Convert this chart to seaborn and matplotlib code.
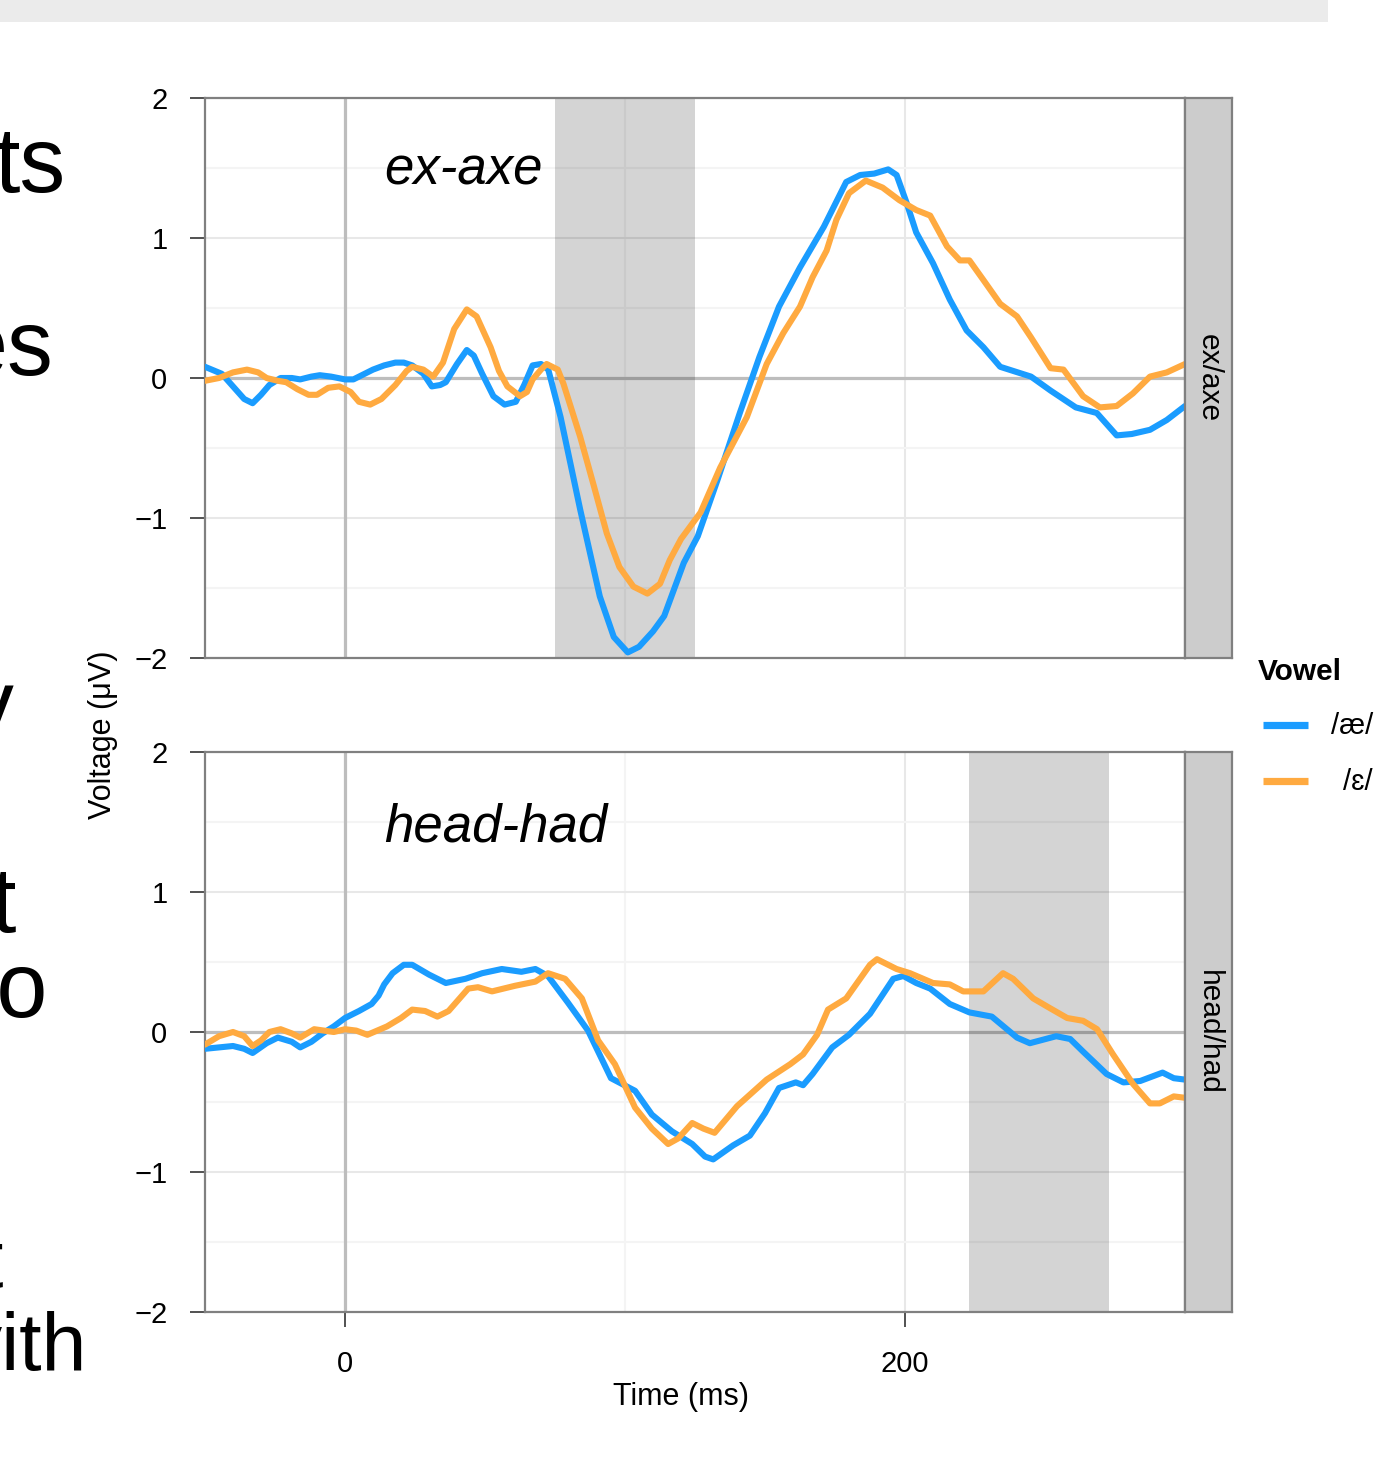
import matplotlib
matplotlib.use("Agg")
import matplotlib.pyplot as plt
import seaborn as sns
import pandas as pd
from matplotlib.lines import Line2D
from matplotlib.patches import Rectangle

# ---------------- data ----------------
vowels = ["/æ/", "/ɛ/"]
words = ["ex-axe", "head-had"]
strip_labels = ["ex/axe", "head/had"]
bands = [(75, 125), (223, 273)]

# ex-axe, /æ/
exaxe_ae_t = [-50, -44, -40, -36, -33, -30, -27, -23, -19, -16, -12, -9, -5, 0, 3, 6, 10, 14, 18, 21, 24,
              28, 31, 34, 36, 40, 43.5, 46, 49, 53, 57, 61, 64, 67, 70, 72.6, 77, 84, 91, 96, 101, 105, 110,
              114, 121, 126, 133, 141, 148, 155, 162.5, 171, 179, 184, 189, 194, 197, 200.6, 204, 210, 216,
              222, 228, 234, 245, 252, 261, 268.5, 275.6, 281, 287.5, 293.5, 300]
exaxe_ae_v = [0.08, 0.03, -0.06, -0.15, -0.18, -0.12, -0.05, 0.0, 0.0, -0.01, 0.01, 0.02, 0.01, -0.01, -0.01,
              0.02, 0.06, 0.09, 0.11, 0.11, 0.09, 0.03, -0.06, -0.05, -0.03, 0.1, 0.2, 0.16, 0.03, -0.13,
              -0.19, -0.17, -0.05, 0.09, 0.1, 0.06, -0.28, -0.94, -1.56, -1.85, -1.96, -1.92, -1.81, -1.7,
              -1.32, -1.13, -0.73, -0.25, 0.15, 0.51, 0.79, 1.08, 1.4, 1.45, 1.46, 1.49, 1.45, 1.25, 1.04,
              0.82, 0.56, 0.34, 0.22, 0.08, 0.01, -0.09, -0.21, -0.25, -0.41, -0.4, -0.37, -0.3, -0.2]

# ex-axe, /ɛ/
exaxe_eh_t = [-50, -45, -40, -35, -31, -28, -24, -21, -17, -13, -10, -6, -2, 2, 5, 9, 13, 18, 22, 24, 28,
              31.5, 35, 39, 43.5, 47, 52, 55, 58, 62.5, 65, 67, 70, 72, 76, 78, 84, 89, 93.5, 98, 103, 108,
              112.5, 116, 120, 127, 134, 143.5, 150.6, 156.5, 162.5, 167, 172, 175.5, 180, 186, 192, 198,
              204, 209, 215, 219.6, 223, 228, 234, 240, 245, 252, 256.6, 263.6, 269.6, 275.6, 281.4, 287.5,
              293.5, 300]
exaxe_eh_v = [-0.02, 0.0, 0.04, 0.06, 0.04, 0.0, -0.02, -0.03, -0.08, -0.12, -0.12, -0.07, -0.06, -0.1,
              -0.17, -0.19, -0.15, -0.05, 0.05, 0.08, 0.06, 0.01, 0.11, 0.35, 0.49, 0.44, 0.22, 0.05, -0.06,
              -0.13, -0.1, -0.01, 0.06, 0.1, 0.06, -0.04, -0.42, -0.78, -1.11, -1.35, -1.49, -1.54, -1.47,
              -1.3, -1.15, -0.96, -0.64, -0.28, 0.1, 0.32, 0.51, 0.72, 0.91, 1.13, 1.32, 1.41, 1.36, 1.27,
              1.2, 1.16, 0.94, 0.84, 0.84, 0.7, 0.53, 0.44, 0.29, 0.07, 0.06, -0.13, -0.21, -0.2, -0.11,
              0.01, 0.04, 0.1]

# head-had, /æ/
headhad_ae_t = [-50, -45, -40, -36, -33, -28, -24, -19, -16, -12, -8, -4, 0, 5, 9.5, 12, 14, 17, 21, 24,
                30, 36, 43, 49, 56, 63, 68, 72.5, 79.6, 86.8, 95, 103.6, 109.6, 116.8, 124, 128.6, 131.5,
                138.6, 144.6, 150, 155, 161, 163.6, 167, 174, 180, 187.5, 195.8, 199.4, 204, 209, 216, 223,
                231, 240, 244.6, 254, 259, 263.6, 272, 278, 284, 292, 296, 300]
headhad_ae_v = [-0.12, -0.11, -0.1, -0.12, -0.15, -0.08, -0.04, -0.07, -0.11, -0.07, -0.01, 0.04, 0.1, 0.15,
                0.2, 0.26, 0.34, 0.42, 0.48, 0.48, 0.41, 0.35, 0.38, 0.42, 0.45, 0.43, 0.45, 0.4, 0.21, 0.01,
                -0.33, -0.42, -0.59, -0.71, -0.8, -0.89, -0.91, -0.81, -0.74, -0.58, -0.4, -0.36, -0.38,
                -0.3, -0.11, -0.02, 0.13, 0.38, 0.4, 0.35, 0.31, 0.2, 0.14, 0.11, -0.04, -0.08, -0.03, -0.05,
                -0.14, -0.3, -0.36, -0.35, -0.29, -0.33, -0.34]

# head-had, /ɛ/
headhad_eh_t = [-50, -45, -40, -36, -33, -30, -27, -23, -19, -16, -11, -4, 0, 4, 8, 15, 20, 24, 28.6, 33,
                37, 44, 47.5, 52.5, 60.7, 68, 72.5, 78.6, 84.6, 90.4, 96.4, 103.6, 109.6, 115.4, 119, 124,
                128, 132, 140, 150.6, 159, 163.6, 168.6, 172.5, 179, 187.5, 190, 197, 201.8, 210, 216,
                220.8, 228, 235, 238.6, 245.8, 251.8, 257.9, 263.6, 268.6, 274.3, 281.4, 287.5, 291, 296, 300]
headhad_eh_v = [-0.09, -0.03, 0.0, -0.03, -0.1, -0.06, 0.0, 0.02, -0.01, -0.04, 0.02, 0.0, 0.02, 0.01,
                -0.02, 0.04, 0.1, 0.16, 0.15, 0.11, 0.15, 0.31, 0.32, 0.29, 0.33, 0.36, 0.42, 0.38, 0.24,
                -0.06, -0.23, -0.54, -0.69, -0.8, -0.76, -0.65, -0.69, -0.72, -0.53, -0.34, -0.23, -0.16,
                -0.02, 0.16, 0.24, 0.48, 0.52, 0.45, 0.42, 0.35, 0.34, 0.29, 0.29, 0.42, 0.38, 0.24, 0.17,
                0.1, 0.08, 0.02, -0.16, -0.37, -0.51, -0.51, -0.46, -0.47]

series = {
    "ex-axe": [(exaxe_ae_t, exaxe_ae_v), (exaxe_eh_t, exaxe_eh_v)],
    "head-had": [(headhad_ae_t, headhad_ae_v), (headhad_eh_t, headhad_eh_v)],
}

x_ticks = [0, 200]
y_ticks = [-2, -1, 0, 1, 2]

# slide text fragments clipped at left edge
slide_frags = ["ts", "es", "y", "t", "to", "t", "vith"]

# ---------------- style ----------------
sns.set_theme(style="white")
plt.rcParams["font.family"] = ["Liberation Sans", "DejaVu Sans"]
plt.rcParams["text.color"] = "black"
plt.rcParams["axes.labelcolor"] = "black"
plt.rcParams["xtick.color"] = "black"
plt.rcParams["ytick.color"] = "black"
palette = {"/æ/": "#1a9cff", "/ɛ/": "#ffaa40"}

W, H = 1392, 1464
fig = plt.figure(figsize=(W / 100, H / 100), dpi=100)


def fx(px):
    return px / W


def fy(py):
    return 1 - py / H


# top grey bar of the slide
fig.patches.append(Rectangle((0, fy(22)), fx(1328), 22 / H, transform=fig.transFigure,
                             facecolor="#ebebeb", edgecolor="none", zorder=0))

# left slide text fragments
frag_pos = [(66, 192), (53, 375), (14, 735), (16, 932), (48, 1017), (3, 1287), (87, 1370)]
frag_size = [66, 66, 66, 66, 66, 58, 58]
for txt, (xr, yb), fs in zip(slide_frags, frag_pos, frag_size):
    fig.text(fx(xr), fy(yb), txt, ha="right", va="baseline", fontsize=fs, color="black",
             family=["Liberation Sans Narrow", "Liberation Sans"] if fs == 58 else None)

panel_tops = [98, 752]
ph = 560
for i, word in enumerate(words):
    top = panel_tops[i]
    ax = fig.add_axes([fx(205), fy(top + ph), fx(1185) - fx(205), ph / H])
    rows = []
    for vowel, (ts, vs) in zip(vowels, series[word]):
        for t, v in zip(ts, vs):
            rows.append({"time": t, "voltage": v, "vowel": vowel})
    df = pd.DataFrame(rows)

    ax.set_xlim(-50, 300)
    ax.set_ylim(-2, 2)
    ax.set_xticks(x_ticks)
    ax.set_xticks([100, 300], minor=True)
    ax.set_yticks(y_ticks)
    ax.set_yticks([-1.5, -0.5, 0.5, 1.5], minor=True)
    ax.grid(which="major", color="#e8e8e8", lw=1.5, zorder=0.5)
    ax.grid(which="minor", color="#f4f4f4", lw=1.5, zorder=0.5)
    ax.set_axisbelow(True)
    ax.axhline(0, color="#bdbdbd", lw=2.3, zorder=1)
    ax.axvline(0, color="#bdbdbd", lw=2.3, zorder=1)
    ax.axvspan(bands[i][0], bands[i][1], color="black", alpha=0.17, lw=0, zorder=1.5)

    sns.lineplot(data=df, x="time", y="voltage", hue="vowel", palette=palette,
                 hue_order=vowels, estimator=None, sort=False, linewidth=4.4,
                 legend=False, ax=ax, zorder=3)
    for ln in ax.lines[2:]:
        ln.set_solid_joinstyle("round")
        ln.set_solid_capstyle("round")
    ax.set_xlabel("")
    ax.set_ylabel("")

    for s in ax.spines.values():
        s.set_color("#808080")
        s.set_linewidth(1.6)
    ax.tick_params(which="major", axis="y", length=11, width=1.2, color="#333333",
                   labelsize=21, pad=16, labelcolor="black", left=True)
    ax.tick_params(which="minor", length=0)
    if i == 0:
        ax.tick_params(which="major", axis="x", length=0, labelbottom=False, bottom=False)
    else:
        ax.tick_params(which="major", axis="x", length=11, width=1.2, color="#333333",
                       labelsize=21, pad=16, labelcolor="black", bottom=True)

    ax.text(14, 1.38 if i == 0 else 1.36, word, ha="left", va="baseline", fontsize=38,
            style="italic", color="black", zorder=5)

    # facet strip on the right
    sax = fig.add_axes([fx(1185), fy(top + ph), fx(1232) - fx(1185), ph / H])
    sax.set_facecolor("#cccccc")
    sax.set_xticks([])
    sax.set_yticks([])
    for s in sax.spines.values():
        s.set_color("#808080")
        s.set_linewidth(1.6)
    sax.text(0.5, 0.5, strip_labels[i], rotation=-90, ha="center", va="center",
             fontsize=21.5, color="black", transform=sax.transAxes)

# axis titles
fig.text(fx(103), fy(735), "Voltage (μV)", rotation=90, ha="center", va="center", fontsize=22,
         color="black")
fig.text(fx(681), fy(1397), "Time (ms)", ha="center", va="center", fontsize=22, color="black")

# legend
fig.text(fx(1258), fy(672), "Vowel", ha="left", va="center", fontsize=21.5, fontweight="bold",
         color="black")
for j, (vowel, yy) in enumerate(zip(vowels, [725, 781])):
    fig.add_artist(Line2D([fx(1263), fx(1308)], [fy(yy), fy(yy)], transform=fig.transFigure,
                          color=palette[vowel], lw=5.2, solid_capstyle="butt"))
    fig.text(fx(1373), fy(yy + 1), vowel, ha="right", va="center", fontsize=21, color="black")

fig.savefig("out.png", dpi=100)
